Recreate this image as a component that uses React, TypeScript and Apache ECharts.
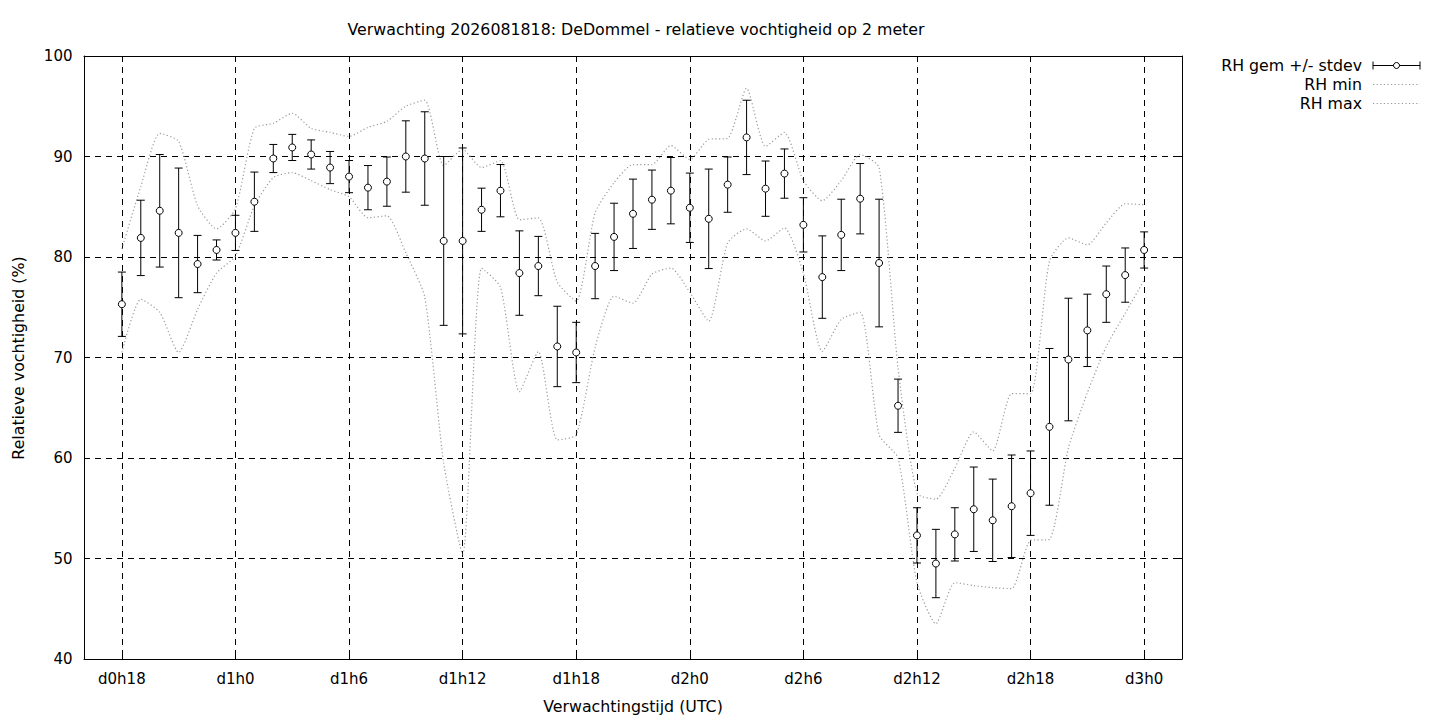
import React, { useEffect, useRef } from 'react';
import * as echarts from 'echarts';

// x-axis categories (hours from forecast base), plot spans d0h16 .. d3h2
const axisCategories = [
  'd0h16', 'd0h17', 'd0h18', 'd0h19', 'd0h20', 'd0h21', 'd0h22', 'd0h23',
  'd1h0', 'd1h1', 'd1h2', 'd1h3', 'd1h4', 'd1h5', 'd1h6', 'd1h7', 'd1h8', 'd1h9', 'd1h10', 'd1h11',
  'd1h12', 'd1h13', 'd1h14', 'd1h15', 'd1h16', 'd1h17', 'd1h18', 'd1h19', 'd1h20', 'd1h21', 'd1h22', 'd1h23',
  'd2h0', 'd2h1', 'd2h2', 'd2h3', 'd2h4', 'd2h5', 'd2h6', 'd2h7', 'd2h8', 'd2h9', 'd2h10', 'd2h11',
  'd2h12', 'd2h13', 'd2h14', 'd2h15', 'd2h16', 'd2h17', 'd2h18', 'd2h19', 'd2h20', 'd2h21', 'd2h22', 'd2h23',
  'd3h0', 'd3h1', 'd3h2',
];

const tickLabels = ['d0h18', 'd1h0', 'd1h6', 'd1h12', 'd1h18', 'd2h0', 'd2h6', 'd2h12', 'd2h18', 'd3h0'];

// data points: d0h18 .. d3h0 (hourly)
const times = axisCategories.slice(2, 57);

const rhMean = [
  75.3, 81.9, 84.6, 82.4, 79.3, 80.7, 82.4, 85.5, 89.8, 90.9, 90.2, 88.9, 88.0,
  86.9, 87.5, 90.0, 89.8, 81.6, 81.6, 84.7, 86.6, 78.4, 79.1, 71.1, 70.5, 79.1,
  82.0, 84.3, 85.7, 86.6, 84.9, 83.8, 87.2, 91.9, 86.8, 88.3, 83.2, 78.0, 82.2,
  85.8, 79.4, 65.2, 52.3, 49.5, 52.4, 54.9, 53.8, 55.2, 56.5, 63.1, 69.8, 72.7,
  76.3, 78.2, 80.7,
];

const rhStdev = [
  3.2, 3.75, 5.6, 6.45, 2.85, 1.0, 1.75, 2.95, 1.4, 1.3, 1.45, 1.6, 1.6,
  2.2, 2.45, 3.55, 4.65, 8.4, 9.25, 2.15, 2.6, 4.2, 2.95, 4.0, 3.0, 3.25,
  3.35, 3.45, 2.95, 3.3, 3.45, 4.95, 2.75, 3.7, 2.75, 2.45, 2.7, 4.1, 3.55,
  3.5, 6.35, 2.65, 2.75, 3.4, 2.65, 4.2, 4.1, 5.1, 4.2, 7.8, 6.1, 3.6,
  2.8, 2.7, 1.8,
];

const rhMin = [
  70.5, 75.8, 74.5, 70.5, 74.8, 78.4, 80.1, 85.1, 87.9, 88.4, 87.6, 86.7, 86.0,
  83.9, 84.1, 80.4, 76.0, 59.5, 50.4, 78.9, 77.0, 66.6, 70.6, 61.8, 62.3, 71.0,
  76.1, 75.4, 78.3, 78.9, 76.5, 73.6, 81.4, 82.8, 81.6, 82.9, 78.4, 70.6, 73.8,
  74.5, 62.3, 60.0, 47.6, 43.5, 47.6, 47.3, 47.1, 47.0, 51.8, 51.9, 61.0, 66.5,
  71.1, 74.4, 77.7,
];

const rhMax = [
  80.8, 87.0, 92.3, 91.5, 85.1, 82.8, 84.8, 92.8, 93.3, 94.3, 92.8, 92.4, 92.0,
  92.9, 93.5, 95.0, 95.6, 89.1, 90.7, 88.9, 89.6, 83.7, 83.9, 77.5, 75.6, 84.4,
  87.4, 89.2, 89.2, 91.1, 89.7, 91.7, 91.8, 96.8, 91.0, 92.4, 87.6, 85.6, 87.6,
  90.2, 88.9, 69.0, 56.5, 55.9, 59.0, 62.6, 60.7, 66.4, 66.4, 79.6, 81.9, 81.2,
  83.4, 85.3, 85.2,
];

const FONT = 'DejaVu Sans';
const TITLE = 'Verwachting 2026081818: DeDommel - relatieve vochtigheid op 2 meter';

export default function App() {
  const ref = useRef<HTMLDivElement>(null);

  useEffect(() => {
    document.body.style.margin = '0';
    const chart = echarts.init(ref.current as HTMLDivElement, null, { renderer: 'svg' });
    const isTick = (_i: number, v: string) => tickLabels.includes(v);
    const L = 84, T = 56, R = 1182, B = 659;
    const dash = [6, 5];
    const lineDotted = { color: '#9a9a9a', width: 1.2, type: [1.2, 2.4] };
    const blk = { stroke: '#000', lineWidth: 1 };
    const TXT = 15.8;

    chart.setOption({
      animation: false,
      textStyle: { fontFamily: FONT },
      title: {
        text: TITLE,
        left: 631,
        top: 16,
        textAlign: 'center',
        textStyle: { fontSize: TXT, fontWeight: 'normal', color: '#000', fontFamily: FONT },
      },
      grid: { left: L, top: T, width: R - L, height: B - T },
      xAxis: [
        {
          type: 'category',
          data: axisCategories,
          boundaryGap: false,
          position: 'bottom',
          axisLine: { show: true, lineStyle: { color: '#000', width: 1 } },
          axisTick: { show: true, inside: true, length: 6, interval: isTick, lineStyle: { color: '#000', width: 1 } },
          axisLabel: { interval: isTick, color: '#000', fontSize: 15, margin: 12, fontFamily: FONT },
          splitLine: { show: true, interval: isTick, lineStyle: { color: '#000', type: dash, width: 1 } },
        },
        {
          type: 'category',
          data: axisCategories,
          boundaryGap: false,
          position: 'top',
          axisLine: { show: true, lineStyle: { color: '#000', width: 1 } },
          axisTick: { show: true, inside: true, length: 6, interval: isTick, lineStyle: { color: '#000', width: 1 } },
          axisLabel: { show: false },
          splitLine: { show: false },
        },
      ],
      yAxis: [
        {
          type: 'value',
          min: 40,
          max: 100,
          interval: 10,
          position: 'left',
          axisLine: { show: true, lineStyle: { color: '#000', width: 1 } },
          axisTick: { show: true, inside: true, length: 6, lineStyle: { color: '#000', width: 1 } },
          axisLabel: { color: '#000', fontSize: 15, margin: 11.5, fontFamily: FONT },
          splitLine: { show: true, lineStyle: { color: '#000', type: dash, width: 1 } },
        },
        {
          type: 'value',
          min: 40,
          max: 100,
          interval: 10,
          position: 'right',
          axisLine: { show: true, lineStyle: { color: '#000', width: 1 } },
          axisTick: { show: true, inside: true, length: 6, lineStyle: { color: '#000', width: 1 } },
          axisLabel: { show: false },
          splitLine: { show: false },
        },
      ],
      series: [
        {
          name: 'RH min',
          type: 'line',
          data: times.map((t, i) => [t, rhMin[i]]),
          symbol: 'none',
          smooth: 0.2,
          lineStyle: lineDotted,
          z: 2,
        },
        {
          name: 'RH max',
          type: 'line',
          data: times.map((t, i) => [t, rhMax[i]]),
          symbol: 'none',
          smooth: 0.2,
          lineStyle: lineDotted,
          z: 2,
        },
        {
          name: 'RH gem +/- stdev',
          type: 'custom',
          data: times.map((t, i) => [t, rhMean[i] - rhStdev[i], rhMean[i] + rhStdev[i]]),
          encode: { x: 0, y: [1, 2] },
          renderItem: (_params: any, api: any) => {
            const x = api.value(0);
            const lo = api.coord([x, api.value(1)]);
            const hi = api.coord([x, api.value(2)]);
            const w = 4;
            return {
              type: 'group',
              children: [
                { type: 'line', shape: { x1: lo[0], y1: lo[1], x2: hi[0], y2: hi[1] }, style: blk },
                { type: 'line', shape: { x1: lo[0] - w, y1: lo[1], x2: lo[0] + w, y2: lo[1] }, style: blk },
                { type: 'line', shape: { x1: hi[0] - w, y1: hi[1], x2: hi[0] + w, y2: hi[1] }, style: blk },
              ],
            };
          },
          z: 3,
        },
        {
          name: 'RH gem',
          type: 'scatter',
          data: times.map((t, i) => [t, rhMean[i]]),
          symbol: 'circle',
          symbolSize: 7,
          itemStyle: { color: '#fff', borderColor: '#000', borderWidth: 1, opacity: 1 },
          z: 4,
        },
      ],
      graphic: [
        {
          type: 'text',
          x: 18,
          y: 358,
          rotation: Math.PI / 2,
          style: { text: 'Relatieve vochtigheid (%)', fontSize: TXT, fontFamily: FONT, fill: '#000', align: 'center', verticalAlign: 'middle' },
        },
        {
          type: 'text',
          x: 633,
          y: 706,
          style: { text: 'Verwachtingstijd (UTC)', fontSize: TXT, fontFamily: FONT, fill: '#000', align: 'center', verticalAlign: 'middle' },
        },
        // legend
        {
          type: 'text', x: 1362, y: 65.5,
          style: { text: 'RH gem +/- stdev', fontSize: TXT, fontFamily: FONT, fill: '#000', align: 'right', verticalAlign: 'middle' },
        },
        {
          type: 'text', x: 1362, y: 84.5,
          style: { text: 'RH min', fontSize: TXT, fontFamily: FONT, fill: '#000', align: 'right', verticalAlign: 'middle' },
        },
        {
          type: 'text', x: 1362, y: 103.5,
          style: { text: 'RH max', fontSize: TXT, fontFamily: FONT, fill: '#000', align: 'right', verticalAlign: 'middle' },
        },
        { type: 'line', shape: { x1: 1373, y1: 65.5, x2: 1420, y2: 65.5 }, style: blk },
        { type: 'line', shape: { x1: 1373, y1: 61.5, x2: 1373, y2: 69.5 }, style: blk },
        { type: 'line', shape: { x1: 1420, y1: 61.5, x2: 1420, y2: 69.5 }, style: blk },
        { type: 'circle', shape: { cx: 1396.5, cy: 65.5, r: 3 }, style: { fill: '#fff', stroke: '#000', lineWidth: 1 } },
        { type: 'line', shape: { x1: 1373, y1: 84.5, x2: 1420, y2: 84.5 }, style: { stroke: '#9a9a9a', lineWidth: 1.2, lineDash: [1.2, 2.4] } },
        { type: 'line', shape: { x1: 1373, y1: 103.5, x2: 1420, y2: 103.5 }, style: { stroke: '#9a9a9a', lineWidth: 1.2, lineDash: [1.2, 2.4] } },
      ],
    });

    return () => chart.dispose();
  }, []);

  return <div ref={ref} style={{ width: 1440, height: 720 }} />;
}
